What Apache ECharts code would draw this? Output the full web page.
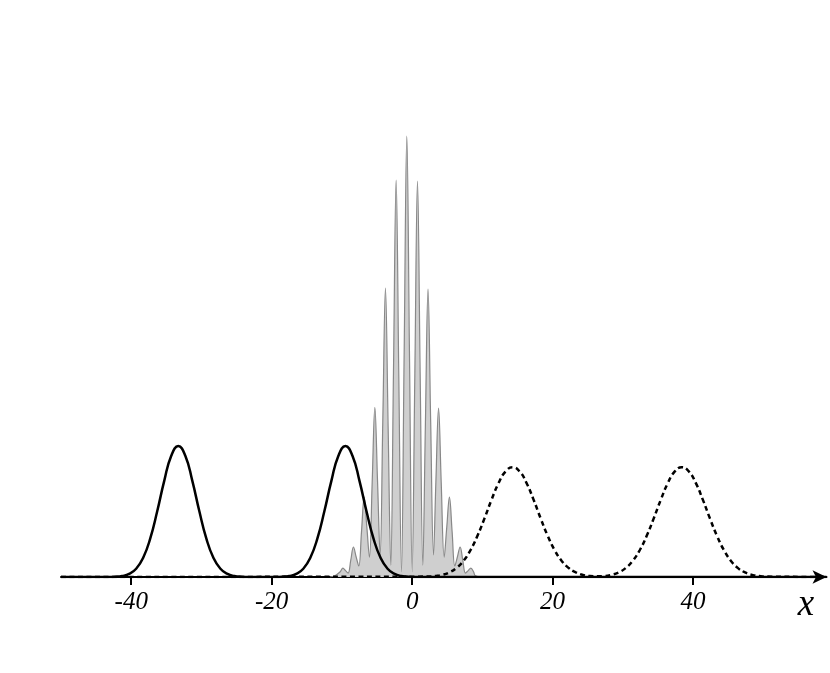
<!DOCTYPE html>
<html lang="en">
<head>
  <meta charset="UTF-8">
  <title>wave packets</title>
  <script src="https://cdn.jsdelivr.net/npm/echarts@6.0.0/dist/echarts.min.js"></script>
</head>
<body style="margin: 0; background: #fff">
  <div id="main" style="width: 830px; height: 673px;"></div>
  <script type="text/javascript">
    // tick labels on the x axis
    const tickValues = [-40, -20, 0, 20, 40]

    // interference fringes: valley, flank, peak, flank ...
    const fringeX = [-11.7, -11.0,
      -10.24, -9.86, -9.48, -9.12,
      -8.74, -8.36, -7.98, -7.6,
      -7.21, -6.83, -6.45, -6.08,
      -5.69, -5.31, -4.93, -4.56,
      -4.18, -3.8, -3.42, -3.04,
      -2.66, -2.28, -1.9, -1.52,
      -1.14, -0.76, -0.38, 0,
      0.38, 0.76, 1.14, 1.52,
      1.88, 2.26, 2.64, 3.04,
      3.38, 3.76, 4.14, 4.56,
      4.93, 5.31, 5.69, 6.08,
      6.45, 6.83, 7.21, 7.6,
      7.98, 8.36, 8.74, 9.0,
      9.8]
    const fringeY = [0, 0.003,
      0.012, 0.02, 0.0145, 0.009,
      0.038, 0.068, 0.046, 0.025,
      0.103, 0.181, 0.113, 0.045,
      0.215, 0.385, 0.218, 0.05,
      0.352, 0.655, 0.341, 0.027,
      0.463, 0.9, 0.456, 0.012,
      0.506, 1.0, 0.506, 0.012,
      0.455, 0.898, 0.462, 0.027,
      0.34, 0.653, 0.351, 0.05,
      0.216, 0.383, 0.214, 0.045,
      0.113, 0.181, 0.103, 0.025,
      0.046, 0.068, 0.038, 0.009,
      0.0145, 0.02, 0.012, 0.003,
      0]

    // solid packets (left)
    const solidX = [-50,
      -43.3, -42.3, -41.3, -40.3, -39.3, -38.3, -37.3, -36.3, -35.3, -34.3, -33.3,
      -32.3, -31.3, -30.3, -29.3, -28.3, -27.3, -26.3, -25.3, -24.3, -23.3,
      -19.5, -18.5, -17.5, -16.5, -15.5, -14.5, -13.5, -12.5, -11.5, -10.5, -9.5,
      -8.5, -7.5, -6.5, -5.5, -4.5, -3.5, -2.5, -1.5, -0.5, 0.5,
      59]
    const solidY = [0,
      0.0001, 0.0006, 0.0022, 0.0069, 0.0187, 0.0435, 0.087, 0.149, 0.218, 0.275, 0.297,
      0.275, 0.218, 0.149, 0.087, 0.0435, 0.0187, 0.0069, 0.0022, 0.0006, 0.0001,
      0.0001, 0.0006, 0.0022, 0.0069, 0.0187, 0.0435, 0.087, 0.149, 0.218, 0.275, 0.297,
      0.275, 0.218, 0.149, 0.087, 0.0435, 0.0187, 0.0069, 0.0022, 0.0006, 0.0001,
      0]

    // dashed packets (right)
    const dashedX = [-50,
      2.3, 3.3, 4.3, 5.3, 6.3, 7.3, 8.3, 9.3, 10.3, 11.3, 12.3, 13.3, 14.3,
      15.3, 16.3, 17.3, 18.3, 19.3, 20.3, 21.3, 22.3, 23.3, 24.3, 25.3,
      26.35,
      27.4, 28.4, 29.4, 30.4, 31.4, 32.4, 33.4, 34.4, 35.4, 36.4, 37.4, 38.4,
      39.4, 40.4, 41.4, 42.4, 43.4, 44.4, 45.4, 46.4, 47.4, 48.4, 49.4, 50.4,
      59]
    const dashedY = [0,
      0.0009, 0.0022, 0.0049, 0.0104, 0.0202, 0.0364, 0.0607, 0.0934, 0.1329, 0.1749, 0.2128, 0.2394, 0.249,
      0.2394, 0.2128, 0.1749, 0.1329, 0.0934, 0.0607, 0.0364, 0.0202, 0.0104, 0.0049, 0.0022,
      0.0018,
      0.0022, 0.0049, 0.0104, 0.0202, 0.0364, 0.0607, 0.0934, 0.1329, 0.1749, 0.2128, 0.2394, 0.249,
      0.2394, 0.2128, 0.1749, 0.1329, 0.0934, 0.0607, 0.0364, 0.0202, 0.0104, 0.0049, 0.0022, 0.0009,
      0]

    function pairs(xs, ys) {
      return xs.map((x, i) => [x, ys[i]])
    }

    var myChart = echarts.init(document.getElementById('main'))

    var option = {
      animation: false,
      backgroundColor: '#fff',
      grid: { left: 61, right: 3.5, top: 92, bottom: 96 },
      xAxis: {
        type: 'value',
        min: -50,
        max: 59,
        splitLine: { show: false },
        axisLine: {
          lineStyle: { color: '#000', width: 2 },
          symbol: ['none', 'arrow'],
          symbolSize: [10, 14]
        },
        axisTick: {
          customValues: tickValues,
          length: 8,
          lineStyle: { color: '#000', width: 2 }
        },
        axisLabel: {
          customValues: tickValues,
          margin: 13,
          color: '#000',
          fontFamily: 'Liberation Serif',
          fontStyle: 'italic',
          fontSize: 25
        }
      },
      yAxis: {
        type: 'value',
        min: 0,
        max: 1.1,
        show: false
      },
      graphic: [{
        type: 'text',
        x: 806,
        y: 605,
        style: {
          text: 'x',
          fill: '#000',
          font: 'italic 37px "Liberation Serif"',
          textAlign: 'center',
          textVerticalAlign: 'middle'
        }
      }],
      series: [{
        type: 'line',
        data: pairs(fringeX, fringeY),
        smooth: 0.4,
        showSymbol: false,
        lineStyle: { color: '#888', width: 1.2 },
        areaStyle: { color: '#cfcfcf', opacity: 1 },
        z: 1
      }, {
        type: 'line',
        data: pairs(solidX, solidY),
        smooth: true,
        showSymbol: false,
        lineStyle: { color: '#000', width: 2.5 },
        z: 3
      }, {
        type: 'line',
        data: pairs(dashedX, dashedY),
        smooth: true,
        showSymbol: false,
        lineStyle: { color: '#000', width: 2.5, type: [5, 3.5] },
        z: 3
      }]
    }

    myChart.setOption(option)
  </script>
</body>
</html>
